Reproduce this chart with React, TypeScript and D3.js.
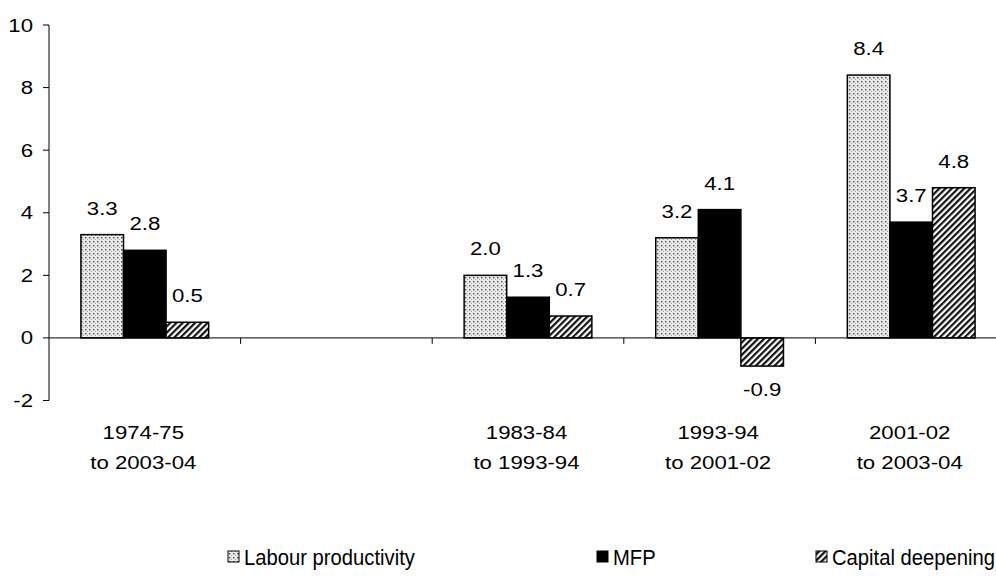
import { useEffect, useRef } from 'react';
import * as d3 from 'd3';

const categories = ['1974-75|to 2003-04', '', '1983-84|to 1993-94', '1993-94|to 2001-02', '2001-02|to 2003-04'];
const seriesNames = ['Labour productivity', 'MFP', 'Capital deepening'];
const labourProductivity = [3.3, null, 2.0, 3.2, 8.4];
const mfp = [2.8, null, 1.3, 4.1, 3.7];
const capitalDeepening = [0.5, null, 0.7, -0.9, 4.8];
const yTicks = [-2, 0, 2, 4, 6, 8, 10];

const FONT = 'Liberation Sans, Arial, sans-serif';
const FILLS = ['url(#dots)', '#000', 'url(#diag)'];

export default function App() {
  const svgRef = useRef<SVGSVGElement>(null);

  useEffect(() => {
    if (!svgRef.current) return;
    const svg = d3.select(svgRef.current);
    svg.selectAll('*').remove();
    const W = 996;

    // Patterns
    const defs = svg.append('defs');
    const dots = defs.append('pattern').attr('id', 'dots').attr('patternUnits', 'userSpaceOnUse')
      .attr('width', 4).attr('height', 4);
    dots.append('rect').attr('width', 4).attr('height', 4).attr('fill', '#ececec');
    dots.append('rect').attr('x', 1).attr('y', 1).attr('width', 1.4).attr('height', 1.4).attr('fill', '#444');
    dots.append('rect').attr('x', 3).attr('y', 3).attr('width', 1).attr('height', 1).attr('fill', '#999');
    const diag = defs.append('pattern').attr('id', 'diag').attr('patternUnits', 'userSpaceOnUse')
      .attr('width', 4.4).attr('height', 4.4).attr('patternTransform', 'rotate(45)');
    diag.append('rect').attr('width', 4.4).attr('height', 4.4).attr('fill', '#fff');
    diag.append('rect').attr('width', 2.2).attr('height', 4.4).attr('fill', '#111');

    const x = d3.scaleBand<string>().domain(categories.map((_, i) => String(i))).range([49, 1007]);
    const inner = d3.scaleBand<string>().domain(seriesNames).range([0, x.bandwidth()]).paddingOuter(0.75);
    const y = d3.scaleLinear().domain([-2, 10]).range([400.5, 25]);

    const stretchText = (g: any, tx: number, ty: number, s: string, size: number, sx: number, anchor: string) =>
      g.append('text')
        .attr('transform', `translate(${tx},${ty}) scale(${sx},1)`)
        .attr('text-anchor', anchor)
        .attr('font-family', FONT)
        .attr('font-size', size)
        .attr('fill', '#000')
        .text(s);

    // y axis
    const axG = svg.append('g');
    axG.append('line').attr('x1', 49).attr('x2', 49).attr('y1', y(10)).attr('y2', y(-2))
      .attr('stroke', '#000').attr('stroke-width', 1);
    yTicks.forEach(t => {
      axG.append('line').attr('x1', 43).attr('x2', 49).attr('y1', y(t)).attr('y2', y(t))
        .attr('stroke', '#000').attr('stroke-width', 1);
      stretchText(axG, 33, y(t) + 6.5, String(t), 18.5, 1.2, 'end');
    });

    // bars
    const series = [labourProductivity, mfp, capitalDeepening];
    const barsG = svg.append('g');
    const labelsG = svg.append('g');
    series.forEach((vals, si) => {
      vals.forEach((v, ci) => {
        if (v === null) return;
        const bx = (x(String(ci)) ?? 0) + (inner(seriesNames[si]) ?? 0);
        const bw = inner.bandwidth();
        barsG.append('rect')
          .attr('x', bx).attr('width', bw)
          .attr('y', y(Math.max(0, v))).attr('height', Math.abs(y(v) - y(0)))
          .attr('fill', FILLS[si]).attr('stroke', '#000').attr('stroke-width', 1.5);
        const ly = v >= 0 ? y(v) - 20 : y(v) + 30;
        stretchText(labelsG, bx + bw / 2, ly, v.toFixed(1), 18.5, 1.2, 'middle');
      });
    });

    // x axis
    const xG = svg.append('g');
    xG.append('line').attr('x1', 49).attr('x2', W).attr('y1', y(0)).attr('y2', y(0))
      .attr('stroke', '#000').attr('stroke-width', 1);
    categories.forEach((c, i) => {
      const x0 = x(String(i)) ?? 0;
      if (i > 0) {
        xG.append('line').attr('x1', x0).attr('x2', x0).attr('y1', y(0)).attr('y2', y(0) + 6)
          .attr('stroke', '#000').attr('stroke-width', 1);
      }
      if (!c) return;
      const cx = x0 + x.bandwidth() / 2 - 1.5;
      c.split('|').forEach((line, li) => {
        stretchText(xG, cx, 439 + li * 30, line, 18.5, 1.2, 'middle');
      });
    });

    // legend
    const legG = svg.append('g');
    const legendX = [228, 597, 816];
    seriesNames.forEach((name, i) => {
      legG.append('rect').attr('x', legendX[i]).attr('y', 551).attr('width', 11).attr('height', 11)
        .attr('fill', FILLS[i]).attr('stroke', '#000').attr('stroke-width', 1);
      stretchText(legG, legendX[i] + 16, 565, name, 22, 0.92, 'start');
    });
  }, []);

  return (
    <svg
      ref={svgRef}
      width={996}
      height={580}
      style={{ position: 'absolute', left: 0, top: 0, background: '#fff' }}
    />
  );
}
